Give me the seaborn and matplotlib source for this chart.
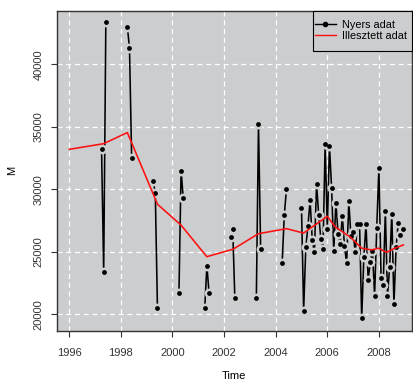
import numpy as np
import pandas as pd
import matplotlib
matplotlib.use("Agg")
import matplotlib.pyplot as plt
import seaborn as sns
from matplotlib.lines import Line2D
from matplotlib.patches import Rectangle

# ---- data ----
early_years = [1997, 1998, 1999, 2000, 2001, 2002, 2003, 2004]
early_months = [4, 5, 6]
early_values = [
    [33200, 23400, 43400],
    [43000, 41300, 32500],
    [30700, 29700, 20500],
    [21700, 31500, 29300],
    [20500, 23900, 21700],
    [26150, 26850, 21290],
    [21290, 35200, 25250],
    [24070, 27950, 30000],
]
values_2005 = [28530, 20300, 25360, 27040, 29130, 25950, 24960, 30420, 27940, 26050, 25260, 33590]
values_2006 = [26850, 33490, 30120, 25060, 28930, 26450, 25650, 27840, 25460, 24070, 29030, 26250]
values_2007 = [26550, 24960, 27240, 27240, 19700, 24560, 27240, 22780, 24170, 25060, 21490, 26940]
values_2008 = [31710, 22880, 22380, 28230, 21490, 23770, 28040, 20800, 25360, 27340, 26350, 26850]
late_years = [2005, 2006, 2007, 2008]

fit_time = [1996.0, 1997.33, 1998.25, 1999.42, 2000.33, 2001.33, 2002.35, 2003.33,
            2004.42, 2005.08, 2006.0, 2006.3, 2006.88, 2007.33, 2007.72, 2007.98,
            2008.3, 2008.62, 2008.95]
fit_value = [33200, 33650, 34540, 28800, 27140, 24610, 25210, 26450,
             26850, 26500, 27840, 27000, 26200, 25290, 25150, 25290,
             24960, 25290, 25550]

x_ticks = [1996, 1998, 2000, 2002, 2004, 2006, 2008]
y_ticks = [20000, 25000, 30000, 35000, 40000]
legend_labels = ["Nyers adat", "Illesztett adat"]

# ---- build tables ----
rows = []
for seg, (yr, vals) in enumerate(zip(early_years, early_values)):
    for m, v in zip(early_months, vals):
        rows.append({"time": yr + (m - 1) / 12, "value": v, "seg": seg})
late_vals = [values_2005, values_2006, values_2007, values_2008]
for yr, vals in zip(late_years, late_vals):
    for i, v in enumerate(vals):
        rows.append({"time": yr + i / 12, "value": v, "seg": 99})
raw = pd.DataFrame(rows)
fit = pd.DataFrame({"time": fit_time, "value": fit_value})

# ---- style ----
panel = "#cbcdcf"
red = "#ff1010"
plt.rcParams["font.family"] = ["Liberation Sans", "DejaVu Sans"]

fig = plt.figure(figsize=(4.13, 3.82), dpi=100)
ax = fig.add_axes([56.7 / 413, 51 / 382, 355.3 / 413, 320.3 / 382])
ax.set_facecolor(panel)

sns.lineplot(data=raw, x="time", y="value", units="seg", estimator=None,
             sort=False, color="black", lw=1.15, ax=ax, zorder=2, legend=False)
sns.scatterplot(data=raw, x="time", y="value", color=panel, s=50,
                linewidth=0, ax=ax, zorder=3, legend=False)
sns.scatterplot(data=raw, x="time", y="value", color="black", s=12,
                linewidth=0, ax=ax, zorder=4, legend=False)
sns.lineplot(data=fit, x="time", y="value", color=red, lw=1.15,
             ax=ax, zorder=5, legend=False)

ax.set_xlim(1995.512, 2009.283)
ax.set_ylim(18664, 44290)
ax.set_xticks(x_ticks)
ax.set_yticks(y_ticks)
ax.set_xticklabels([str(t) for t in x_ticks])
ax.set_yticklabels([str(t) for t in y_ticks], rotation=90, va="center")

ax.grid(True, color="white", linestyle=(0, (4, 3)), lw=0.9)
ax.set_axisbelow(True)
for s in ax.spines.values():
    s.set_color("#333333")
    s.set_linewidth(1.0)

ax.tick_params(axis="both", direction="out", length=4.5, width=0.8,
               colors="#333333", labelsize=8)
ax.tick_params(axis="x", pad=7.5)
ax.tick_params(axis="y", pad=5)

ax.set_xlabel("Time", fontsize=8, color="black")
ax.set_ylabel("M", fontsize=8, color="black")
ax.xaxis.set_label_coords(0.5, -0.125)
ax.yaxis.set_label_coords(-0.112, 0.5)

# legend box (frame drawn as a patch so its size matches the reference)
box_x0 = 0.7205
box_y0 = 0.875
ax.add_patch(Rectangle((box_x0, box_y0), 1 - box_x0, 1 - box_y0,
                       transform=ax.transAxes, facecolor=panel,
                       edgecolor="black", lw=0.8, zorder=9, clip_on=False))
handles = [Line2D([], [], color="black", marker="o", ms=3, lw=1.0),
           Line2D([], [], color=red, lw=1.0)]
leg = ax.legend(handles=handles, labels=legend_labels, loc="center left",
                bbox_to_anchor=(box_x0 + 0.004, (1 + box_y0) / 2),
                borderaxespad=0, frameon=False, fontsize=7.8,
                handlelength=1.9, handletextpad=0.55, labelspacing=0.1,
                borderpad=0.1)
leg.set_zorder(10)

fig.savefig("out.png", dpi=100)
